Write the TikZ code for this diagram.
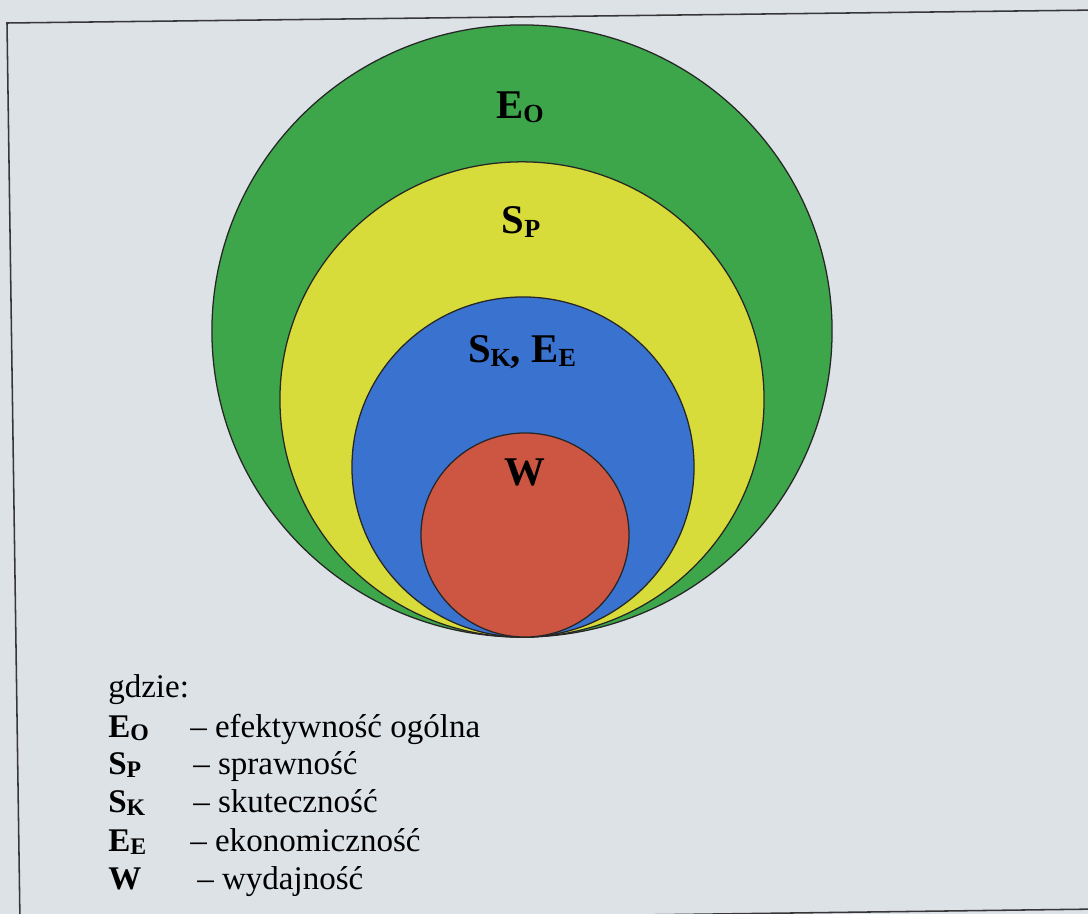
\documentclass[tikz,border=0pt]{standalone}
\usepackage{fontspec}
\setmainfont{Liberation Serif}
\usepackage{graphicx}
\usepackage{tikz}
\usetikzlibrary{positioning}
\definecolor{paper}{RGB}{221,226,231}
\definecolor{framegray}{RGB}{55,55,58}
\definecolor{effgreen}{RGB}{62,166,74}
\definecolor{effyellow}{RGB}{216,220,58}
\definecolor{effblue}{RGB}{58,114,208}
\definecolor{effred}{RGB}{204,86,66}
\newcommand{\sym}[3][0.72]{\textbf{#2\raisebox{-0.22ex}{\scalebox{#1}{#3}}}}

\begin{document}
\begin{tikzpicture}[x=0.025cm, y=-0.025cm,
  ring/.style={draw=black!85, line width=0.9pt},
  biglabel/.style={anchor=base, inner sep=0pt, font=\fontsize{29}{34}\selectfont},
  legend/.style={anchor=base west, inner sep=0pt, font=\fontsize{23.5}{28}\selectfont}]
  \useasboundingbox[fill=paper] (0,0) rectangle (1088,914);
  \draw[framegray, line width=1.1pt] (1100,10) -- (7,23) -- (20,923) -- (1100,909);
  % nested rings, all touching at the bottom
  \draw[ring, fill=effgreen] (522,331) ellipse [x radius=7.75cm, y radius=7.65cm];
  \draw[ring, fill=effyellow] (522,399.5) ellipse [x radius=6.05cm, y radius=5.94cm];
  \draw[ring, fill=effblue] (523,467) ellipse [x radius=4.275cm, y radius=4.25cm];
  \draw[ring, fill=effred] (525,535) ellipse [x radius=2.6cm, y radius=2.55cm];
  \node[biglabel] (lblEO) at (520,118) {\sym[0.64]{E}{O}};
  \node[biglabel] (lblSP) at (521,233) {\sym[0.64]{S}{P}};
  \node[biglabel] (lblSKEE) at (522,362) {\sym[0.64]{S}{K}\textbf{,} \sym[0.64]{E}{E}};
  \node[biglabel] (lblW) at (525,485) {\textbf{W}};
  % legend
  \node[legend] (where) at (108,697) {gdzie:};
  \node[legend] (symEO) at (108,737) {\sym{E}{O}};
  \node[legend] (txtEO) at (190,737) {– efektywność ogólna};
  \node[legend] (symSP) at (108,774) {\sym{S}{P}};
  \node[legend] (txtSP) at (193,774) {– sprawność};
  \node[legend] (symSK) at (108,812) {\sym{S}{K}};
  \node[legend] (txtSK) at (193,812) {– skuteczność};
  \node[legend] (symEE) at (108,851) {\sym{E}{E}};
  \node[legend] (txtEE) at (190,851) {– ekonomiczność};
  \node[legend] (symW) at (108,889) {\textbf{W}};
  \node[legend] (txtW) at (197,889) {– wydajność};
\end{tikzpicture}
\end{document}
